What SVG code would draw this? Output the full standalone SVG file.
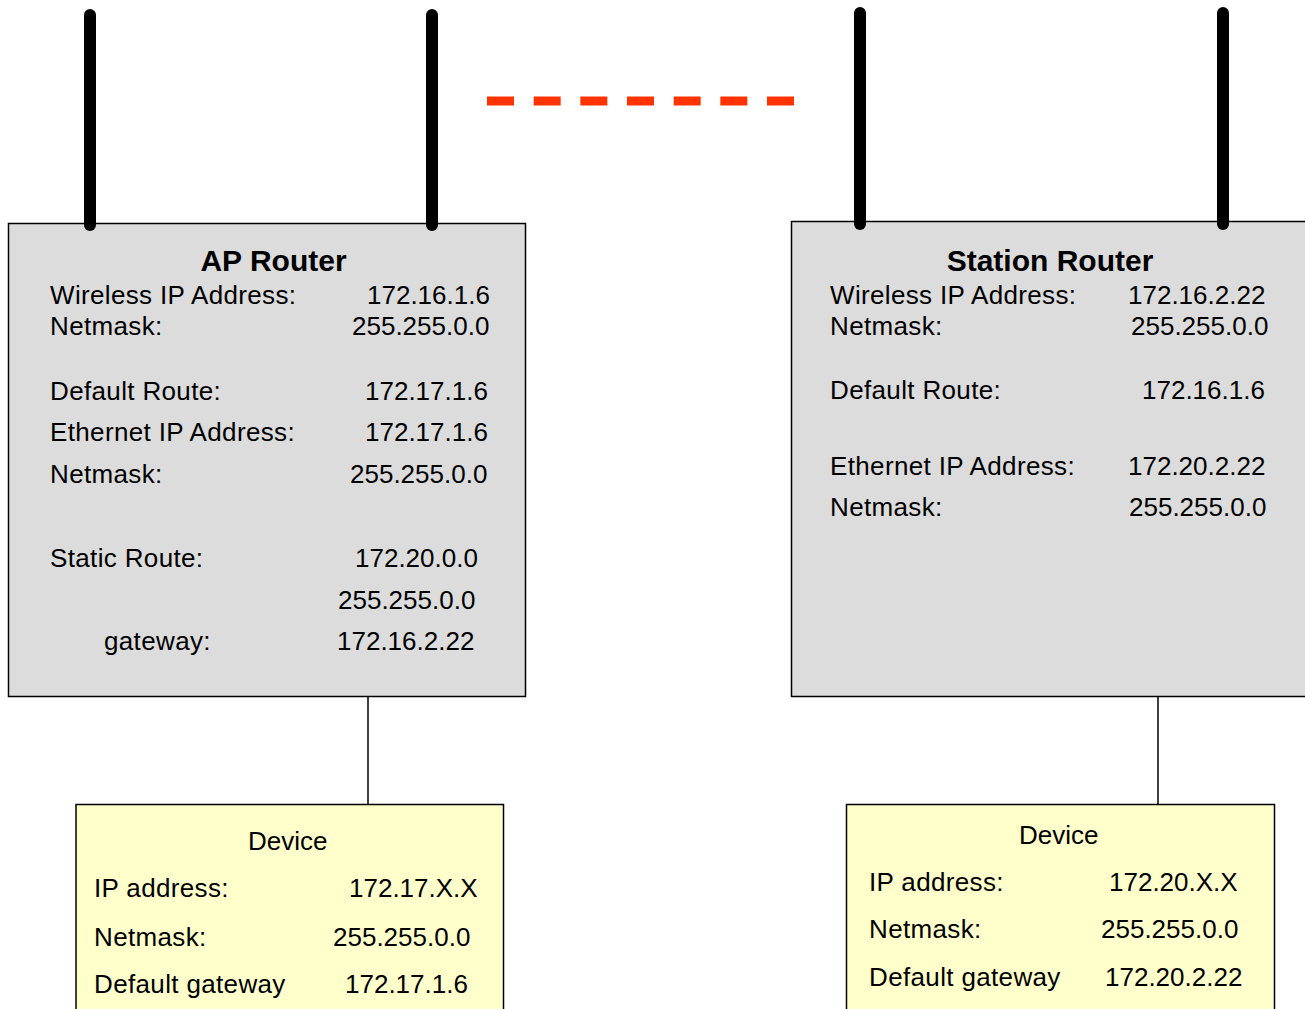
<svg xmlns="http://www.w3.org/2000/svg" width="1305" height="1009" viewBox="0 0 1305 1009">
<style>
.router{fill:#dcdcdc;stroke:#000;stroke-width:1.5}
.device{fill:#ffffcc;stroke:#000;stroke-width:1.5}
.ant{stroke:#000;stroke-width:12;stroke-linecap:round;fill:none}
.wire{stroke:#000;stroke-width:1.5;fill:none}
.wl{stroke:#ff3300;stroke-width:9;stroke-dasharray:27 19.67;fill:none}
text{font-family:"Liberation Sans",Arial,sans-serif;font-size:26px;fill:#000}
.l{letter-spacing:0.35px}
.title{font-size:30px;font-weight:bold;text-anchor:middle}
</style>
<rect width="1305" height="1009" fill="#fff"/>
<g id="connectors">
<line class="wl" x1="487" y1="101" x2="794" y2="101"/>
<line class="wire" x1="368" y1="696" x2="368" y2="804"/>
<line class="wire" x1="1158" y1="697" x2="1158" y2="804"/>
</g>
<g id="ap-router">
<rect class="router" x="8.5" y="223.5" width="517" height="473"/>
<line class="ant" x1="90" y1="15" x2="90" y2="225"/>
<line class="ant" x1="432" y1="15" x2="432" y2="225"/>
<text class="title" x="273.5" y="271">AP Router</text>
<text class="l" x="50" y="304">Wireless IP Address:</text><text x="367" y="304">172.16.1.6</text>
<text class="l" x="50" y="335">Netmask:</text><text x="352" y="335">255.255.0.0</text>
<text class="l" x="50" y="400">Default Route:</text><text x="365" y="400">172.17.1.6</text>
<text class="l" x="50" y="441">Ethernet IP Address:</text><text x="365" y="441">172.17.1.6</text>
<text class="l" x="50" y="483">Netmask:</text><text x="350" y="483">255.255.0.0</text>
<text class="l" x="50" y="567">Static Route:</text><text x="355" y="567">172.20.0.0</text>
<text x="338" y="609">255.255.0.0</text>
<text class="l" x="104" y="650">gateway:</text><text x="337" y="650">172.16.2.22</text>
</g>
<g id="station-router">
<rect class="router" x="791.5" y="221.5" width="530" height="475"/>
<line class="ant" x1="860" y1="13" x2="860" y2="224"/>
<line class="ant" x1="1223" y1="13" x2="1223" y2="224"/>
<text class="title" x="1050" y="271">Station Router</text>
<text class="l" x="830" y="304">Wireless IP Address:</text><text x="1128" y="304">172.16.2.22</text>
<text class="l" x="830" y="335">Netmask:</text><text x="1131" y="335">255.255.0.0</text>
<text class="l" x="830" y="399">Default Route:</text><text x="1142" y="399">172.16.1.6</text>
<text class="l" x="830" y="475">Ethernet IP Address:</text><text x="1128" y="475">172.20.2.22</text>
<text class="l" x="830" y="516">Netmask:</text><text x="1129" y="516">255.255.0.0</text>
</g>
<g id="ap-device">
<rect class="device" x="76" y="804.5" width="427.5" height="220"/>
<text x="248" y="850">Device</text>
<text class="l" x="94" y="897">IP address:</text><text x="349" y="897">172.17.X.X</text>
<text class="l" x="94" y="946">Netmask:</text><text x="333" y="946">255.255.0.0</text>
<text class="l" x="94" y="993">Default gateway</text><text x="345" y="993">172.17.1.6</text>
</g>
<g id="station-device">
<rect class="device" x="846.5" y="804.5" width="428" height="220"/>
<text x="1019" y="844">Device</text>
<text class="l" x="869" y="891">IP address:</text><text x="1109" y="891">172.20.X.X</text>
<text class="l" x="869" y="938">Netmask:</text><text x="1101" y="938">255.255.0.0</text>
<text class="l" x="869" y="986">Default gateway</text><text x="1105" y="986">172.20.2.22</text>
</g>
</svg>
